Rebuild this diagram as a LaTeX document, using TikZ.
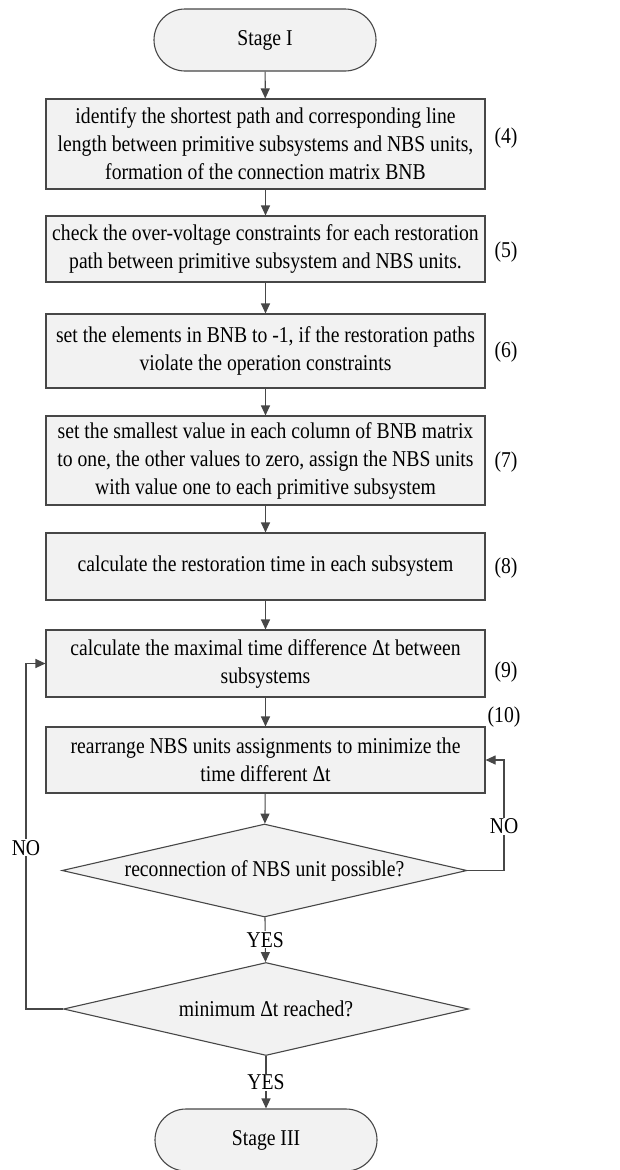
\documentclass[tikz,border=0pt]{standalone}
\usepackage{fontspec}
\setmainfont[FakeStretch=0.87]{Liberation Serif}
\usetikzlibrary{shapes.geometric,arrows.meta}
\definecolor{linegray}{HTML}{474747}
\definecolor{boxgray}{HTML}{F2F2F2}
\tikzset{
  txt/.style={font=\fontsize{22.6}{28}\selectfont},
  stepbox/.style={txt,draw=linegray,fill=boxgray,line width=1.1pt,minimum width=439pt,inner xsep=1pt,inner ysep=0pt,align=center},
  term/.style={txt,draw=linegray,fill=boxgray,line width=1.1pt,minimum width=222pt,minimum height=62pt,rounded corners=31pt},
  decide/.style={txt,diamond,aspect=4.35,draw=linegray,fill=boxgray,line width=1.1pt,inner sep=0pt,minimum width=405pt,minimum height=93pt},
  flow/.style={draw=linegray,line width=1.1pt,-{Triangle[length=10pt,width=9pt]}},
  answer/.style={txt,fill=white,inner sep=1pt},
  eqno/.style={txt,inner sep=0pt}
}
\begin{document}
\begin{tikzpicture}[x=1pt,y=-1pt]
\useasboundingbox (0,0) rectangle (620,1170);

\node[term] (start) at (265,40) {Stage I};
\node[stepbox,minimum height=90pt] (b1) at (265.5,144) {identify the shortest path and corresponding line\\length between primitive subsystems and NBS units,\\formation of the connection matrix BNB};
\node[stepbox,minimum height=66pt] (b2) at (265.5,249) {check the over-voltage constraints for each restoration\\path between primitive subsystem and NBS units.};
\node[stepbox,minimum height=74pt] (b3) at (265.5,351) {set the elements in BNB to -1, if the restoration paths\\violate the operation constraints};
\node[stepbox,minimum height=89pt] (b4) at (265.5,460.5) {set the smallest value in each column of BNB matrix\\to one, the other values to zero, assign the NBS units\\with value one to each primitive subsystem};
\node[stepbox,minimum height=67pt] (b5) at (265.5,566.5) {calculate the restoration time in each subsystem};
\node[stepbox,minimum height=67pt] (b6) at (265.5,663.5) {calculate the maximal time difference Δt between\\subsystems};
\node[stepbox,minimum height=66pt] (b7) at (265.5,760) {rearrange NBS units assignments to minimize the\\time different Δt};
\node[decide] (d1) at (264.5,870.5) {reconnection of NBS unit possible?};
\node[decide] (d2) at (266,1009) {minimum Δt reached?};
\node[term] (stop) at (266,1140) {Stage III};

\node[eqno] (n4) at (506,138) {(4)};
\node[eqno] (n5) at (506,252) {(5)};
\node[eqno] (n6) at (506,352) {(6)};
\node[eqno] (n7) at (506,462) {(7)};
\node[eqno] (n8) at (506,568) {(8)};
\node[eqno] (n9) at (506,672) {(9)};
\node[eqno] (n10) at (504,717) {(10)};

\draw[flow] (start) -- (b1);
\draw[flow] (b1) -- (b2);
\draw[flow] (b2) -- (b3);
\draw[flow] (b3) -- (b4);
\draw[flow] (b4) -- (b5);
\draw[flow] (b5) -- (b6);
\draw[flow] (b6) -- (b7);
\draw[flow] (b7) -- (d1);
\draw[flow] (d1) -- node[answer] {YES} (d2);
\draw[flow] (d2) -- node[answer] {YES} (stop);

\coordinate (r1) at (504,870.5);
\coordinate (r2) at (504,760);
\draw[flow] (d1.east) -- (r1) -- node[answer,pos=0.4] {NO} (r2) -- (b7.east);
\coordinate (l1) at (26,1009);
\coordinate (l2) at (26,663.5);
\draw[flow] (d2.west) -- (l1) -- node[answer,pos=0.467] {NO} (l2) -- (b6.west);
\end{tikzpicture}
\end{document}
